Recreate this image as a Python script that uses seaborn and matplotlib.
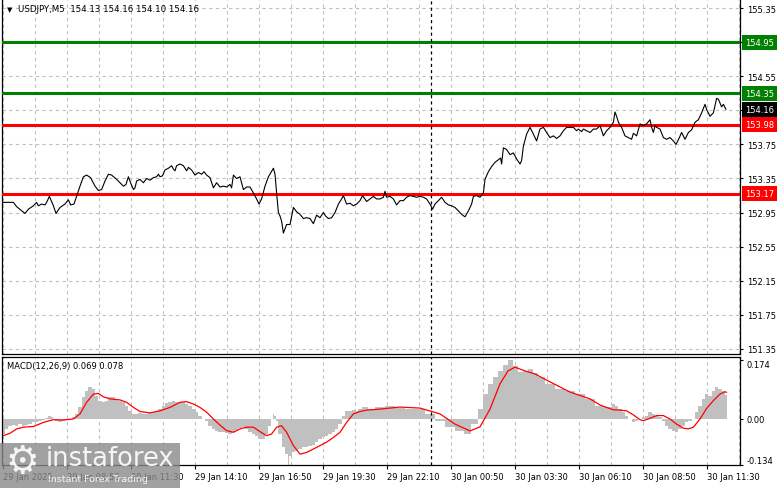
import numpy as np
import pandas as pd
import matplotlib
matplotlib.use("Agg")
import matplotlib.pyplot as plt
import seaborn as sns
from matplotlib.transforms import blended_transform_factory
from matplotlib.patches import Rectangle
from matplotlib.ticker import MultipleLocator, FixedLocator

# ---------------- data ----------------
symbol_header = "USDJPY,M5  154.13 154.16 154.10 154.16"
macd_header = "MACD(12,26,9) 0.069 0.078"
start_time = "2025-01-29 06:10"          # time of bar 0 (5-minute bars)
day_separator = "2025-01-30 00:00"

xtick_times = ["2025-01-29 06:10", "2025-01-29 08:50", "2025-01-29 11:30",
               "2025-01-29 14:10", "2025-01-29 16:50", "2025-01-29 19:30",
               "2025-01-29 22:10", "2025-01-30 00:50", "2025-01-30 03:30",
               "2025-01-30 06:10", "2025-01-30 08:50", "2025-01-30 11:30"]
xtick_labels = ["29 Jan 2025", "29 Jan 08:50", "29 Jan 11:30", "29 Jan 14:10",
                "29 Jan 16:50", "29 Jan 19:30", "29 Jan 22:10", "30 Jan 00:50",
                "30 Jan 03:30", "30 Jan 06:10", "30 Jan 08:50", "30 Jan 11:30"]

price_ticks = [151.35, 151.75, 152.15, 152.55, 152.95, 153.35, 153.75,
               154.15, 154.55, 154.95, 155.35]

level_values = [154.95, 154.35, 153.98, 153.17]
level_kinds = ["resistance", "resistance", "support", "support"]

# bar index (5-min bars since start) and close price
price_bar = [0, 5.2, 6.8, 11, 12.7, 15.2, 16.8, 17.7, 19.3, 21, 21.8, 23.2, 25.2, 26.5,
             28.5, 31, 32.7, 33.8, 35.5, 36.8, 38.5, 40.2, 41.8, 43.8, 46, 47.7, 49.3,
             51, 52.7, 54.3, 56.8, 58.5, 60.2, 61.5, 62.7, 63.8, 65.2, 66, 66.8, 68.5,
             70.2, 71.8, 73.5, 75.2, 76.8, 77.7, 78.5, 79.7, 81, 82.7, 84.3, 85.2, 86,
             86.8, 88.5, 90.2, 91.8, 92.7, 94.3, 96, 97.7, 99.3, 100.5, 101.8, 103.5,
             105.2, 106.8, 108.5, 110.2, 111.8, 113.5, 114.3, 115.2, 116.8, 118.5,
             120.2, 121.8, 123.5, 125.2, 126.8, 128, 129.3, 131, 132.7, 135.2, 136,
             136.8, 137.7, 138.5, 139.3, 140.2, 141.8, 143.5, 145.2, 146.8, 148.5,
             150.2, 151.8, 153.5, 155.2, 156.8, 158.5, 160.2, 161.3, 162.7, 164.3,
             166, 167.7, 169.3, 170.2, 171.8, 173.5, 175.2, 176.8, 178.5, 179.8,
             181.8, 183.5, 185.2, 186.8, 188.5, 190.2, 191, 191.8, 193.5, 195.2,
             196.8, 198.5, 200.2, 201.8, 203.5, 205.2, 206.8, 208.5, 210.2, 211.8,
             213.5, 214.8, 216, 217.7, 219.3, 221, 222.7, 224.3, 226, 227.7, 229.3,
             231, 232.7, 234.3, 235.2, 236.8, 238.5, 240.2, 241, 242.7, 244.3, 246,
             247.7, 248.8, 249.3, 250.2, 251.8, 253.5, 255.2, 256.8, 258.5, 259.3,
             260.2, 261.8, 263.5, 265.2, 266.8, 268.5, 270.2, 271.8, 273.5, 275.2,
             276.8, 278.5, 280.2, 281.8, 283.5, 285.2, 286.8, 287.7, 289.3, 290.2,
             291.8, 293.5, 295.2, 296.8, 298.5, 300.2, 301.8, 303.5, 305.2, 306,
             306.8, 307.7, 309.3, 311, 312.7, 314.3, 315.2, 316.8, 318.5, 320.2,
             321.8, 323.5, 324.3, 325.2, 326, 326.8, 328.5, 330.2, 331.8, 333.5,
             335.2, 336.5, 338.2, 339.3, 341, 342.7, 344.3, 346, 347.7, 349.3, 351,
             351.8, 353.5, 355.2, 356.8, 357.7, 359.3, 360.2, 361.5]
price_close = [153.07, 153.07, 153.02, 152.94, 152.99, 153.03, 153.07, 153.03, 153.05,
               153.04, 153.07, 153.14, 153.03, 152.94, 153.01, 153.05, 153.10, 153.04,
               153.05, 153.14, 153.26, 153.37, 153.39, 153.36, 153.26, 153.21, 153.22,
               153.32, 153.40, 153.39, 153.34, 153.30, 153.26, 153.28, 153.37, 153.30,
               153.22, 153.24, 153.32, 153.34, 153.30, 153.35, 153.33, 153.36, 153.37,
               153.40, 153.37, 153.38, 153.45, 153.47, 153.50, 153.46, 153.44, 153.50,
               153.52, 153.50, 153.44, 153.48, 153.45, 153.39, 153.42, 153.40, 153.43,
               153.39, 153.36, 153.24, 153.30, 153.25, 153.26, 153.25, 153.28, 153.24,
               153.39, 153.35, 153.37, 153.22, 153.25, 153.25, 153.18, 153.11, 153.05,
               153.11, 153.26, 153.37, 153.47, 153.40, 153.18, 152.95, 152.91, 152.85,
               152.71, 152.81, 152.81, 153.01, 152.96, 152.93, 152.88, 152.89, 152.88,
               152.82, 152.92, 152.89, 152.95, 152.91, 152.88, 152.89, 152.95, 153.05,
               153.11, 153.15, 153.05, 153.06, 153.03, 153.05, 153.09, 153.15, 153.08,
               153.11, 153.14, 153.11, 153.11, 153.13, 153.20, 153.13, 153.14, 153.11,
               153.04, 153.09, 153.09, 153.13, 153.15, 153.14, 153.13, 153.14, 153.13,
               153.11, 153.05, 152.99, 153.05, 153.09, 153.13, 153.07, 153.04, 153.03,
               153.01, 152.97, 152.93, 152.90, 152.97, 153.05, 153.14, 153.15, 153.13,
               153.18, 153.34, 153.43, 153.49, 153.54, 153.57, 153.59, 153.52, 153.71,
               153.69, 153.63, 153.65, 153.58, 153.52, 153.56, 153.73, 153.87, 153.95,
               153.87, 153.79, 153.93, 153.95, 153.89, 153.83, 153.85, 153.82, 153.85,
               153.91, 153.95, 153.95, 153.95, 153.91, 153.93, 153.90, 153.93, 153.91,
               153.89, 153.93, 153.93, 153.97, 153.85, 153.91, 153.95, 154.01, 154.13,
               154.08, 154.01, 153.95, 153.85, 153.83, 153.81, 153.88, 153.85, 153.99,
               153.97, 153.99, 154.04, 153.95, 153.89, 153.97, 153.95, 153.93, 153.83,
               153.81, 153.83, 153.79, 153.75, 153.83, 153.89, 153.81, 153.89, 153.92,
               154.01, 154.04, 154.12, 154.22, 154.16, 154.08, 154.12, 154.29, 154.28,
               154.19, 154.22, 154.16]

# MACD main (histogram)
hist_bar = [0, 1.8, 3.5, 5.2, 6.8, 8.5, 10.2, 11.8, 13.5, 15.2, 16.8, 18.5, 20.2, 21.8,
            23.5, 24.3, 25.2, 26.8, 28.5, 30.2, 31.8, 33.5, 35.2, 36.8, 38.5, 40.2,
            41.8, 43.5, 45.2, 46.8, 48.5, 50.2, 51.8, 53.5, 55.2, 56.8, 58.5, 60.2,
            61.8, 63.5, 65.2, 66.8, 68.5, 70.2, 71.8, 73.5, 75.2, 76.8, 78.5, 80.2,
            81.8, 83.5, 85.2, 86.8, 88.5, 90.2, 91.8, 93.5, 95.2, 96.8, 98.5, 100.2,
            101.8, 103.5, 105.2, 106.8, 108.5, 110.2, 111.8, 113.5, 115.2, 116.8,
            118.5, 120.2, 121.8, 123.5, 125.2, 126.8, 128.5, 130.2, 131.8, 133.5,
            134.3, 135.2, 136, 136.8, 138.5, 140.2, 141.8, 142.7, 143.5, 145.2, 146.8,
            148.5, 150.2, 151.8, 153.5, 155.2, 156.8, 158.5, 160.2, 161.8, 163.5,
            165.2, 166.8, 168.5, 170.2, 171.8, 173.5, 175.2, 176.8, 178.5, 180.2,
            181.8, 183.5, 188.5, 193.5, 198.5, 203.5, 208.5, 213.5, 218.5, 223.5,
            228.5, 232, 236, 238.5, 241, 243.5, 246, 248.5, 251, 253.5, 256, 258.5,
            261, 263.5, 266, 268.5, 273.5, 278.5, 283.5, 288.5, 293.5, 298.5, 303.5,
            305.2, 306.8, 308.5, 310.2, 311.8, 313.5, 315.2, 316.8, 318.5, 320.2,
            321.8, 323.5, 325.2, 326.8, 328.5, 330.2, 331.8, 333.5, 335.2, 336.8,
            338.5, 340.2, 341.8, 343.5, 345.2, 346.8, 348.5, 350.2, 351.8, 353.5,
            355.2, 356.8, 358.5, 360.2, 361.8]
hist_val = [-0.044, -0.029, -0.020, -0.018, -0.020, -0.015, -0.020, -0.017, -0.015,
            -0.010, -0.008, -0.005, -0.003, 0.003, 0.010, 0.005, 0.000, -0.007, -0.010,
            -0.005, -0.003, 0.000, 0.005, 0.015, 0.034, 0.064, 0.083, 0.093, 0.088,
            0.068, 0.054, 0.049, 0.054, 0.064, 0.064, 0.059, 0.054, 0.049, 0.039,
            0.024, 0.015, 0.015, 0.017, 0.015, 0.015, 0.017, 0.020, 0.022, 0.029,
            0.039, 0.046, 0.049, 0.054, 0.049, 0.051, 0.049, 0.044, 0.039, 0.029,
            0.020, 0.010, 0.000, -0.005, -0.020, -0.029, -0.036, -0.039, -0.039,
            -0.042, -0.044, -0.039, -0.032, -0.026, -0.024, -0.029, -0.039, -0.044,
            -0.049, -0.059, -0.059, -0.044, -0.020, 0.000, 0.015, 0.010, -0.005,
            -0.044, -0.083, -0.103, -0.134, -0.108, -0.098, -0.093, -0.088, -0.083,
            -0.081, -0.078, -0.075, -0.068, -0.059, -0.054, -0.049, -0.044, -0.039,
            -0.029, -0.015, 0.010, 0.024, 0.024, 0.026, 0.024, 0.029, 0.036, 0.034,
            0.029, 0.035, 0.038, 0.032, 0.029, 0.029, 0.015, -0.006, -0.023, -0.035,
            -0.044, -0.015, 0.029, 0.073, 0.103, 0.123, 0.141, 0.158, 0.174, 0.155,
            0.138, 0.141, 0.147, 0.135, 0.123, 0.103, 0.088, 0.082, 0.073, 0.059,
            0.039, 0.034, 0.044, 0.039, 0.029, 0.020, 0.010, 0.000, -0.010, -0.005,
            0.000, 0.005, 0.010, 0.020, 0.015, 0.010, 0.005, -0.005, -0.020, -0.029,
            -0.034, -0.039, -0.029, -0.020, -0.010, -0.005, 0.000, 0.020, 0.039,
            0.059, 0.073, 0.068, 0.083, 0.093, 0.088, 0.083, 0.069]

# MACD signal line
signal_bar = [0, 3.5, 6.8, 10.2, 15.2, 20.2, 25.2, 30.2, 35.2, 38.5, 41.8, 45.2, 47.7,
              50.2, 53.5, 58.5, 61.8, 65.2, 68.5, 73.5, 78.5, 83.5, 88.5, 91.8, 95.2,
              98.5, 101.8, 105.2, 108.5, 111.8, 115.2, 118.5, 121.8, 125.2, 128.5,
              131.8, 134.3, 136.8, 139.3, 141.8, 145.2, 148.5, 151.8, 155.2, 158.5,
              161.8, 165.2, 168.5, 171.8, 175.2, 178.5, 181.8, 188.5, 198.5, 208.5,
              218.5, 226, 233.5, 238.5, 243.5, 248.5, 252.5, 256, 261, 266, 273.5,
              283.5, 293.5, 298.5, 301.8, 305.2, 308.5, 311.8, 315.2, 318.5, 320.2,
              323.5, 326.8, 330.2, 333.5, 336.8, 340.2, 342.7, 345.2, 348.5, 351.8,
              355.2, 358.5, 361, 361.8]
signal_val = [-0.049, -0.042, -0.029, -0.024, -0.022, -0.010, -0.002, -0.003, 0.000,
              0.015, 0.049, 0.073, 0.075, 0.065, 0.059, 0.056, 0.049, 0.034, 0.022,
              0.018, 0.024, 0.034, 0.049, 0.051, 0.044, 0.034, 0.020, 0.000, -0.018,
              -0.034, -0.039, -0.029, -0.024, -0.024, -0.037, -0.049, -0.044, -0.024,
              -0.020, -0.039, -0.078, -0.103, -0.098, -0.088, -0.078, -0.068, -0.054,
              -0.039, -0.010, 0.015, 0.022, 0.026, 0.029, 0.035, 0.032, 0.015, -0.015,
              -0.035, -0.023, 0.029, 0.103, 0.141, 0.152, 0.141, 0.132, 0.109, 0.079,
              0.059, 0.041, 0.034, 0.027, 0.026, 0.024, 0.012, -0.002, -0.005, 0.002,
              0.010, 0.010, 0.000, -0.015, -0.027, -0.029, -0.024, 0.000, 0.031,
              0.054, 0.073, 0.080, 0.078]
macd_ticks = [0.174, 0.0, -0.134]
macd_tick_labels = ["0.174", "0.00", "-0.134"]

# ---------------- helpers ----------------
t0 = pd.Timestamp(start_time)
def to_bar(t):
    return (pd.Timestamp(t) - t0) / pd.Timedelta(minutes=5)

xtick_bar = [to_bar(t) for t in xtick_times]
sep_bar = to_bar(day_separator)
last_price = price_close[-1]

# ---------------- figure ----------------
sns.set_theme(style="white")
plt.rcParams["font.family"] = ["DejaVu Sans"]
plt.rcParams["axes.linewidth"] = 0.9

W, H = 781, 489
fig = plt.figure(figsize=(W / 100, H / 100), dpi=100)
fig.patch.set_facecolor("white")

def frac_box(x0, y0, x1, y1):
    return [x0 / W, 1 - y1 / H, (x1 - x0) / W, (y1 - y0) / H]

ax1 = fig.add_axes(frac_box(2, 1, 740, 355))
ax2 = fig.add_axes(frac_box(2, 358, 740, 466))

grid_kw = dict(color="#c0c0c0", linewidth=0.8, linestyle=(0, (3, 3)))
fs = 6

xlim = (-0.5, 368.5)
for ax in (ax1, ax2):
    ax.set_facecolor("white")
    ax.set_xlim(*xlim)
    ax.xaxis.set_minor_locator(MultipleLocator(16))
    ax.xaxis.set_major_locator(FixedLocator(xtick_bar))
    ax.grid(which="minor", axis="x", **grid_kw)
    ax.grid(which="major", axis="x", **grid_kw)
    for s in ax.spines.values():
        s.set_color("black")
    ax.axvline(sep_bar, color="black", linewidth=0.9, linestyle=(0, (2.5, 2.5)), zorder=4)

# ---- main price panel ----
ax1.set_ylim(151.291, 155.444)
ax1.set_yticks(price_ticks)
# tick labels that sit under a level / price box are hidden by that box in the original
covered = [v for v in price_ticks
           if any(abs(v - lv) < 0.05 for lv in level_values + [last_price])]
ax1.set_yticklabels(["" if v in covered else f"{v:.2f}" for v in price_ticks])
ax1.yaxis.tick_right()
ax1.tick_params(axis="y", which="both", length=2, width=0.8, pad=3, labelsize=fs,
                colors="black", right=True, left=False)
ax1.tick_params(axis="x", which="both", length=0, labelbottom=False)
ax1.grid(which="major", axis="y", **grid_kw)
ax1.spines["top"].set_visible(False)

level_color = {"resistance": "#008000", "support": "#ff0000"}
for v, k in zip(level_values, level_kinds):
    ax1.axhline(v, color=level_color[k], linewidth=2.2, zorder=3)

sns.lineplot(x=price_bar, y=price_close, ax=ax1, color="black", linewidth=0.8,
             sort=False, estimator=None, zorder=5)
ax1.set_xlabel("")
ax1.set_ylabel("")

trans1 = blended_transform_factory(ax1.transAxes, ax1.transData)
lab_x = 1 + 5 / 738
for v, k in zip(level_values, level_kinds):
    ax1.text(lab_x, v, f"{v:.2f}", transform=trans1, color="white", fontsize=fs,
             va="center", ha="left", clip_on=False, zorder=20,
             bbox=dict(facecolor=level_color[k], edgecolor="none", pad=2.2))
ax1.text(lab_x, last_price, f"{last_price:.2f}", transform=trans1, color="white",
         fontsize=fs, va="center", ha="left", clip_on=False, zorder=20,
         bbox=dict(facecolor="black", edgecolor="none", pad=2.2))

ax1.text(5 / 738, 1 - 9 / 354, "\u25BC", transform=ax1.transAxes, fontsize=5,
         va="center", ha="left", color="black")
ax1.text(16 / 738, 1 - 9 / 354, symbol_header, transform=ax1.transAxes, fontsize=6.2,
         va="center", ha="left", color="black")

# ---- MACD panel ----
ax2.set_ylim(-0.1349, 0.1818)
ax2.fill_between(hist_bar, hist_val, 0, step="mid", color="#c0c0c0", linewidth=0,
                 zorder=2)
sns.lineplot(x=signal_bar, y=signal_val, ax=ax2, color="#ff0000", linewidth=0.9,
             sort=False, estimator=None, zorder=5)
ax2.set_xlabel("")
ax2.set_ylabel("")
ax2.yaxis.tick_right()
ax2.set_yticks(macd_ticks)
ax2.set_yticklabels(macd_tick_labels)
ax2.tick_params(axis="y", length=2, width=0.8, pad=3, labelsize=fs, colors="black",
                right=True, left=False)
ylabs = ax2.get_yticklabels()
ylabs[0].set_va("top")
ylabs[2].set_va("bottom")
ax2.set_xticklabels(xtick_labels)
ax2.tick_params(axis="x", which="major", length=3, width=0.8, pad=2, labelsize=fs,
                colors="black", bottom=True, direction="out")
ax2.tick_params(axis="x", which="minor", length=0)
for lab in ax2.get_xticklabels():
    lab.set_ha("left")
ax2.text(5 / 738, 1 - 9 / 108, macd_header, transform=ax2.transAxes, fontsize=fs,
         va="center", ha="left", color="black")

# ---- watermark ----
fig.patches.append(Rectangle((0, 0), 180 / W, 45 / H, transform=fig.transFigure,
                             facecolor="#8a8a8a", edgecolor="none", alpha=0.8, zorder=30))
fig.text(5 / W, 1 - 463 / H, "\u2699", fontsize=27, color="white", alpha=0.9,
         va="center", ha="left", zorder=31)
fig.text(46 / W, 1 - 459 / H, "instaforex", fontsize=18.5, color="white", alpha=0.9,
         va="center", ha="left", zorder=31)
fig.text(48 / W, 1 - 480 / H, "Instant Forex Trading", fontsize=6.8, color="white",
         alpha=0.9, va="center", ha="left", zorder=31)

fig.savefig("out.png", dpi=100, facecolor="white")
